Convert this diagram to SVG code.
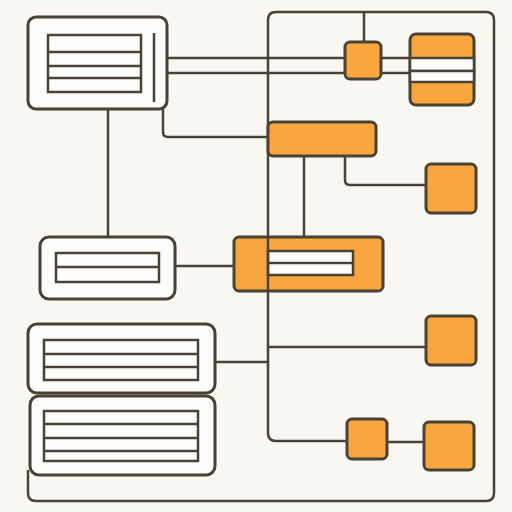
<svg xmlns="http://www.w3.org/2000/svg" width="512" height="512" viewBox="0 0 512 512">
<style>
.bg{fill:#f8f7f2}
.n{fill:#fdfdfb;stroke:#4a4335;stroke-width:3}
.o{fill:#f9a63f;stroke:#4a4335;stroke-width:3}
.w{fill:#fdfdfb;stroke:#4a4335;stroke-width:2.5}
.c{fill:none;stroke:#4a4335;stroke-width:2.5;stroke-linejoin:round}
.l{stroke:#4a4335;stroke-width:2.5}
</style>
<rect class="bg" x="0" y="0" width="512" height="512"/>
<g id="connectors">
<path class="c" d="M347 441 H276 Q268 441 268 433 V20 Q268 12 276 12 H486 Q494 12 494 20 V493 Q494 501 486 501 H36 Q28 501 28 493 V470"/>
<path class="c" d="M364 12 V42"/>
<path class="c" d="M167 58 H345 M167 73 H345"/>
<path class="c" d="M381 58 H410 M381 73 H410"/>
<path class="c" d="M163 109 V132 Q163 137 168 137 H268"/>
<path class="c" d="M108 109 V237"/>
<path class="c" d="M345 156 V180 Q345 185 350 185 H426"/>
<path class="c" d="M304 156 V237"/>
<path class="c" d="M175 266 H234"/>
<path class="c" d="M268 347 H426"/>
<path class="c" d="M215 362 H268"/>
<path class="c" d="M387 442 H424"/>
</g>
<g id="node-top-left">
<rect class="n" x="28" y="17" width="139" height="92" rx="8"/>
<rect class="w" x="48" y="35" width="93" height="57"/>
<path class="l" d="M48 52 H141 M48 66 H141 M48 78 H141"/>
<path class="l" d="M154 33 V102"/>
</g>
<g id="node-top-small">
<rect class="o" x="345" y="42" width="36" height="37" rx="5"/>
</g>
<g id="node-top-right">
<rect class="o" x="410" y="34" width="64" height="71" rx="6"/>
<rect class="w" x="410" y="58" width="64" height="13"/>
<rect class="w" x="410" y="71" width="64" height="11"/>
</g>
<g id="node-wide">
<rect class="o" x="268" y="122" width="108" height="34" rx="5"/>
</g>
<g id="node-square-1">
<rect class="o" x="426" y="164" width="50" height="49" rx="5"/>
</g>
<g id="node-middle-left">
<rect class="n" x="40" y="237" width="135" height="62" rx="9"/>
<rect class="w" x="56" y="253" width="103" height="29"/>
<path class="l" d="M56 267 H159"/>
</g>
<g id="node-middle-orange">
<rect class="o" x="234" y="237" width="149" height="54" rx="5"/>
<rect class="w" x="268" y="251" width="85" height="24"/>
<path class="l" d="M268 263 H353"/>
<path class="l" d="M268 237 V291"/>
</g>
<g id="node-square-2">
<rect class="o" x="426" y="316" width="50" height="49" rx="5"/>
</g>
<g id="node-lower-1">
<rect class="n" x="28" y="324" width="187" height="69" rx="9"/>
<rect class="w" x="44" y="340" width="154" height="40"/>
<path class="l" d="M44 354 H198 M44 367 H198"/>
</g>
<g id="node-lower-2">
<rect class="n" x="30" y="396" width="185" height="79" rx="9"/>
<rect class="w" x="44" y="411" width="154" height="50"/>
<path class="l" d="M44 424 H198 M44 438 H198 M44 451 H198"/>
</g>
<g id="node-bottom-small">
<rect class="o" x="347" y="419" width="40" height="40" rx="5"/>
</g>
<g id="node-bottom-right">
<rect class="o" x="424" y="422" width="50" height="48" rx="5"/>
</g>
</svg>
